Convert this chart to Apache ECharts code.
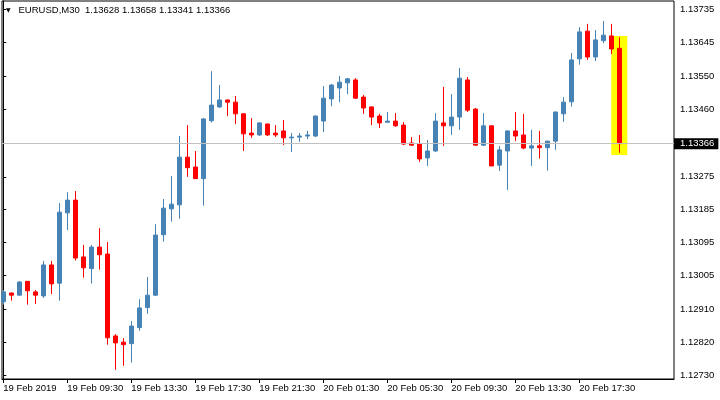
<!DOCTYPE html>
<html>
<head>
<meta charset="utf-8">
<script src="https://cdn.jsdelivr.net/npm/echarts@6/dist/echarts.min.js"></script>
<style>
html, body { margin: 0; padding: 0; background: #fff; }
#main { width: 720px; height: 400px; }
</style>
</head>
<body>
<div id="main"></div>
<script>
var symbolName = 'EURUSD,M30';

// one label every 8 bars (4 hours of M30)
var timeLabels = ['19 Feb 2019', '19 Feb 09:30', '19 Feb 13:30', '19 Feb 17:30', '19 Feb 21:30',
    '20 Feb 01:30', '20 Feb 05:30', '20 Feb 09:30', '20 Feb 13:30', '20 Feb 17:30'];

var opens = [1.12932, 1.12956, 1.12950, 1.12988, 1.12959, 1.12948, 1.13033, 1.12983, 1.13176, 1.13211,
    1.13055, 1.13023, 1.13082, 1.13063, 1.12838, 1.12821, 1.12817, 1.12861, 1.12916, 1.12950,
    1.13116, 1.13187, 1.13198, 1.13329, 1.13302, 1.13270, 1.13429, 1.13467, 1.13486, 1.13480,
    1.13448, 1.13395, 1.13390, 1.13420, 1.13395, 1.13401, 1.13382, 1.13384, 1.13387, 1.13387,
    1.13428, 1.13489, 1.13519, 1.13533, 1.13541, 1.13494, 1.13467, 1.13442, 1.13425, 1.13428,
    1.13417, 1.13368, 1.13365, 1.13327, 1.13346, 1.13423, 1.13415, 1.13439, 1.13541, 1.13461,
    1.13362, 1.13415, 1.13307, 1.13346, 1.13401, 1.13390, 1.13354, 1.13360, 1.13355, 1.13373,
    1.13448, 1.13481, 1.13599, 1.13675, 1.13604, 1.13649, 1.13662, 1.13628];
var closes = [1.12959, 1.12950, 1.12986, 1.12962, 1.12950, 1.13033, 1.12981, 1.13178, 1.13211, 1.13052,
    1.13025, 1.13082, 1.13061, 1.12833, 1.12819, 1.12814, 1.12865, 1.12915, 1.12950, 1.13115,
    1.13189, 1.13200, 1.13329, 1.13300, 1.13270, 1.13434, 1.13472, 1.13486, 1.13480, 1.13448,
    1.13393, 1.13390, 1.13423, 1.13390, 1.13390, 1.13382, 1.13384, 1.13387, 1.13390, 1.13442,
    1.13491, 1.13527, 1.13535, 1.13544, 1.13491, 1.13464, 1.13439, 1.13423, 1.13428, 1.13415,
    1.13365, 1.13362, 1.13324, 1.13346, 1.13428, 1.13415, 1.13439, 1.13546, 1.13458, 1.13362,
    1.13415, 1.13305, 1.13349, 1.13401, 1.13387, 1.13354, 1.13360, 1.13355, 1.13373, 1.13453,
    1.13480, 1.13596, 1.13673, 1.13604, 1.13651, 1.13664, 1.13626, 1.13366];
var lows = [1.12924, 1.12935, 1.12949, 1.12924, 1.12926, 1.12942, 1.12953, 1.12935, 1.13129, 1.13045,
    1.12998, 1.12982, 1.13020, 1.12814, 1.12745, 1.12756, 1.12765, 1.12852, 1.12899, 1.12948,
    1.13097, 1.13152, 1.13160, 1.13275, 1.13269, 1.13196, 1.13424, 1.13464, 1.13442, 1.13420,
    1.13346, 1.13382, 1.13387, 1.13387, 1.13384, 1.13362, 1.13343, 1.13371, 1.13379, 1.13384,
    1.13398, 1.13469, 1.13480, 1.13502, 1.13489, 1.13448, 1.13417, 1.13409, 1.13424, 1.13412,
    1.13362, 1.13361, 1.13316, 1.13305, 1.13343, 1.13360, 1.13390, 1.13404, 1.13453, 1.13361,
    1.13360, 1.13304, 1.13291, 1.13239, 1.13373, 1.13351, 1.13305, 1.13325, 1.13292, 1.13349,
    1.13426, 1.13468, 1.13583, 1.13596, 1.13593, 1.13642, 1.13612, 1.13341];
var highs = [1.12964, 1.12957, 1.12989, 1.12989, 1.12964, 1.13044, 1.13044, 1.13203, 1.13233, 1.13236,
    1.13088, 1.13088, 1.13134, 1.13096, 1.12843, 1.12832, 1.12879, 1.12939, 1.13000, 1.13145,
    1.13214, 1.13277, 1.13387, 1.13417, 1.13346, 1.13436, 1.13565, 1.13527, 1.13487, 1.13497,
    1.13450, 1.13436, 1.13425, 1.13421, 1.13417, 1.13431, 1.13395, 1.13395, 1.13401, 1.13443,
    1.13524, 1.13530, 1.13552, 1.13546, 1.13546, 1.13500, 1.13468, 1.13448, 1.13453, 1.13450,
    1.13425, 1.13384, 1.13390, 1.13376, 1.13450, 1.13522, 1.13502, 1.13574, 1.13549, 1.13464,
    1.13450, 1.13416, 1.13360, 1.13402, 1.13453, 1.13448, 1.13404, 1.13401, 1.13374, 1.13454,
    1.13494, 1.13615, 1.13686, 1.13695, 1.13678, 1.13703, 1.13695, 1.13658];

var priceTicks = [1.13735, 1.13645, 1.13550, 1.13460, 1.13275, 1.13185,
    1.13095, 1.13005, 1.12910, 1.12820, 1.12730];
var lastPrice = 1.13366;

// yellow box round the last bar
var highlightBar = 77;
var highlightTop = 1.13662;
var highlightBottom = 1.13335;

var font = 'Liberation Sans';
var last = opens.length - 1;

var candleData = opens.map(function (o, i) {
    return [i, o, closes[i], lows[i], highs[i]];
});

var chart = echarts.init(document.getElementById('main'));

var option = {
    animation: false,
    backgroundColor: '#fff',
    textStyle: { fontFamily: font },
    title: {
        left: 6,
        top: 5,
        padding: 0,
        text: '{tri|▼}   ' + symbolName + '  ' +
            [opens[last], highs[last], lows[last], closes[last]].map(function (v) {
                return v.toFixed(5);
            }).join(' '),
        textStyle: {
            fontFamily: font,
            fontSize: 9.5,
            fontWeight: 'normal',
            color: '#000',
            rich: {
                tri: { fontSize: 6, color: '#000', fontFamily: 'DejaVu Sans' }
            }
        }
    },
    grid: {
        left: 2,
        right: 46,
        top: 1,
        bottom: 21,
        show: true,
        borderColor: '#000',
        borderWidth: 1,
        backgroundColor: '#fff'
    },
    xAxis: {
        type: 'value',
        min: -0.1625,
        max: 83.8375,
        axisLine: { show: true, onZero: false, lineStyle: { color: '#000' } },
        splitLine: { show: false },
        axisTick: {
            show: true,
            length: 4,
            lineStyle: { color: '#000' },
            customValues: timeLabels.map(function (t, k) { return k * 8; })
        },
        axisLabel: {
            margin: 4,
            align: 'left',
            fontSize: 9.5,
            color: '#000',
            fontFamily: font,
            customValues: timeLabels.map(function (t, k) { return k * 8; }),
            formatter: function (v) { return timeLabels[Math.round(v / 8)]; }
        }
    },
    yAxis: {
        type: 'value',
        position: 'right',
        scale: true,
        min: 1.127198,
        max: 1.137578,
        axisLine: { show: true, lineStyle: { color: '#000' } },
        splitLine: { show: false },
        axisTick: {
            show: true,
            length: 3,
            lineStyle: { color: '#000' },
            customValues: priceTicks
        },
        axisLabel: {
            margin: 6,
            fontSize: 9.5,
            color: '#000',
            fontFamily: font,
            customValues: priceTicks,
            formatter: function (v) { return v.toFixed(5); }
        }
    },
    series: [
        {
            // bid line, carried by a one-point line series; sits behind the bars
            type: 'line',
            z: 1,
            silent: true,
            showSymbol: false,
            symbol: 'none',
            clip: false,
            data: [[last, lastPrice]],
            lineStyle: { opacity: 0 },
            markLine: {
                silent: true,
                symbol: 'none',
                precision: 5,
                animation: false,
                lineStyle: { color: '#c0c0c0', type: 'solid', width: 1 },
                label: {
                    show: true,
                    position: 'end',
                    distance: 0,
                    fontFamily: font,
                    fontSize: 9.5,
                    color: '#fff',
                    backgroundColor: '#000',
                    lineHeight: 11,
                    padding: [0, 4, 0, 6],
                    formatter: function () { return lastPrice.toFixed(5); }
                },
                emphasis: { disabled: true },
                data: [{ yAxis: lastPrice }]
            }
        },
        {
            type: 'custom',
            z: 2,
            silent: true,
            encode: { x: 0, y: [1, 2] },
            data: [[highlightBar, highlightTop, highlightBottom]],
            renderItem: function (params, api) {
                var a = api.coord([api.value(0) - 1, api.value(1)]);
                var b = api.coord([api.value(0) + 1, api.value(2)]);
                return {
                    type: 'rect',
                    shape: { x: a[0], y: a[1], width: b[0] - a[0], height: b[1] - a[1] },
                    style: { fill: '#ffff00' }
                };
            }
        },
        {
            type: 'candlestick',
            z: 3,
            clip: false,
            barWidth: 4,
            encode: { x: 0, y: [1, 2, 3, 4] },
            data: candleData,
            itemStyle: {
                color: '#4682b4',
                color0: '#ff0000',
                borderColor: '#4682b4',
                borderColor0: '#ff0000',
                borderWidth: 1
            }
        }
    ]
};

chart.setOption(option);
</script>
</body>
</html>
